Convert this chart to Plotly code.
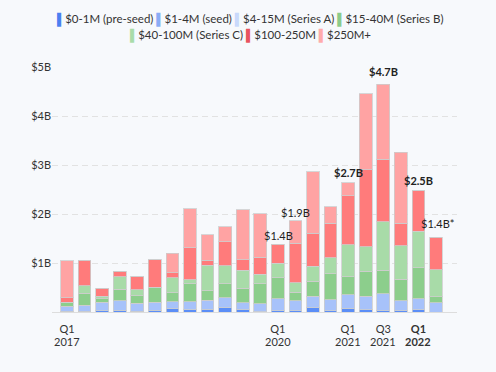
import plotly.graph_objects as go

FONT = "Lato"
W, H = 496, 372
M = dict(l=52, r=39, t=67, b=60)

quarters = ["Q1 2017", "Q2 2017", "Q3 2017", "Q4 2017",
            "Q1 2018", "Q2 2018", "Q3 2018", "Q4 2018",
            "Q1 2019", "Q2 2019", "Q3 2019", "Q4 2019",
            "Q1 2020", "Q2 2020", "Q3 2020", "Q4 2020",
            "Q1 2021", "Q2 2021", "Q3 2021", "Q4 2021",
            "Q1 2022", "Q2 2022"]

# values in $B, bottom to top of each stack
pre_seed = [0.02, 0.02, 0.03, 0.035, 0.02, 0.04, 0.07, 0.05, 0.06, 0.09, 0.05, 0.01,
            0.03, 0.03, 0.09, 0.03, 0.08, 0.05, 0.03, 0.03, 0.05, 0.0]
seed = [0.10, 0.12, 0.17, 0.19, 0.16, 0.16, 0.14, 0.16, 0.18, 0.20, 0.14, 0.16,
        0.24, 0.20, 0.23, 0.22, 0.27, 0.27, 0.34, 0.20, 0.22, 0.19]
series_a = [0.0] * 22
series_b = [0.08, 0.24, 0.075, 0.24, 0.15, 0.31, 0.18, 0.37, 0.19, 0.29, 0.29, 0.41,
            0.43, 0.17, 0.31, 0.53, 0.37, 0.51, 0.48, 0.44, 0.63, 0.12]
series_c = [0.0, 0.16, 0.05, 0.25, 0.12, 0.0, 0.31, 0.08, 0.52, 0.36, 0.37, 0.19,
            0.29, 0.20, 0.30, 0.33, 0.65, 0.50, 0.99, 0.68, 0.75, 0.55]
r100_250 = [0.09, 0.52, 0.16, 0.12, 0.27, 0.56, 0.10, 0.65, 0.11, 0.49, 0.22, 0.35,
            0.39, 0.80, 0.68, 0.70, 1.00, 1.57, 1.28, 0.46, 0.82, 0.67]
r250_plus = [0.76, 0.0, 0.0, 0.0, 0.0, 0.0, 0.40, 0.80, 0.52, 0.31, 1.02, 0.89,
             0.0, 0.46, 1.25, 0.34, 0.27, 1.55, 1.53, 1.45, 0.0, 0.0]

series_names = ["$0-1M (pre-seed)", "$1-4M (seed)", "$4-15M (Series A)", "$15-40M (Series B)",
                "$40-100M (Series C)", "$100-250M", "$250M+"]
series_values = [pre_seed, seed, series_a, series_b, series_c, r100_250, r250_plus]
bar_colors = ["#5b8ef7", "#a7c2fa", "#cddcfc", "#8cce8c", "#a8dba8", "#ff7b7b", "#ffa3a3"]
legend_colors = ["#4a80f0", "#8aacf5", "#c9d9fb", "#8bcb8b", "#a9dca9", "#e8545e", "#ffabab"]

tick_positions = ["Q1 2017", "Q1 2020", "Q1 2021", "Q3 2021", "Q1 2022"]
tick_quarter = ["Q1", "Q1", "Q1", "Q3", "<b>Q1</b>"]
tick_year = ["2017", "2020", "2021", "2021", "<b>2022</b>"]

y_tickvals = [1, 2, 3, 4, 5]
y_ticktext = ["$1B", "$2B", "$3B", "$4B", "$5B"]

label_quarters = ["Q1 2020", "Q2 2020", "Q1 2021", "Q3 2021", "Q1 2022", "Q2 2022"]
label_texts = ["$1.4B", "$1.9B", "$2.7B", "$4.7B", "$2.5B", "$1.4B*"]
label_bold = [False, False, True, True, True, False]
label_yshift = [9, 8, 10, 13, 10, 14]
label_xshift = [1, 0, 0, 0, 0, 2]

fig = go.Figure()
for name, vals, col in zip(series_names, series_values, bar_colors):
    fig.add_trace(go.Bar(
        x=quarters, y=vals, name=name, marker_color=col,
        marker_line_color="rgba(205,205,205,0.8)", marker_line_width=1,
        showlegend=False,
    ))

totals = [sum(v[i] for v in series_values) for i in range(len(quarters))]

annotations = []
for q, t, b, ys, xs in zip(label_quarters, label_texts, label_bold, label_yshift, label_xshift):
    i = quarters.index(q)
    annotations.append(dict(
        x=q, y=totals[i], xref="x", yref="y", text=f"<b>{t}</b>" if b else t,
        showarrow=False, yanchor="middle", yshift=ys, xshift=xs,
        font=dict(family=FONT, size=11, color="#222"),
    ))

# year line of the x tick labels (tight second line)
for q, yr in zip(tick_positions, tick_year):
    annotations.append(dict(
        x=q, y=0, xref="x", yref="paper", text=yr, showarrow=False,
        yanchor="middle", yshift=-29.5, font=dict(family=FONT, size=11, color="#333"),
    ))

# legend rows built from text (swatch glyph + label), centered like the reference
def legend_row(idx):
    parts = []
    for k in idx:
        parts.append(f"<span style='color:{legend_colors[k]}'>▌</span>{series_names[k]}")
    return " ".join(parts)

pw = W - M["l"] - M["r"]
ph = H - M["t"] - M["b"]
def px_to_paper(px, py):
    return (px - M["l"]) / pw, (H - M["b"] - py) / ph

for row, cy in (([0, 1, 2, 3], 19), ([4, 5, 6], 35)):
    ax, ay = px_to_paper(250, cy)
    annotations.append(dict(text=legend_row(row), xref="paper", yref="paper",
                            x=ax, y=ay, xanchor="center", yanchor="middle",
                            showarrow=False, font=dict(family=FONT, size=11.5, color="#333")))

fig.update_layout(
    width=W, height=H,
    barmode="stack", bargap=0.27,
    margin=M,
    paper_bgcolor="#f7f9fc", plot_bgcolor="#f7f9fc",
    font=dict(family=FONT, size=11, color="#333"),
    annotations=annotations,
    showlegend=False,
)
fig.update_xaxes(
    type="category", categoryorder="array", categoryarray=quarters,
    tickmode="array", tickvals=tick_positions, ticktext=tick_quarter,
    showgrid=False, showline=True, linecolor="#dddddd", linewidth=1,
    ticks="", ticklabelstandoff=7, tickfont=dict(family=FONT, size=11, color="#333"),
)
fig.update_yaxes(
    range=[0, 5], tickmode="array", tickvals=y_tickvals, ticktext=y_ticktext,
    showgrid=True, gridcolor="#e2e2e2", griddash="6px,4px", gridwidth=1,
    zeroline=False, showline=False, ticks="",
    tickfont=dict(family=FONT, size=11, color="#333"),
)

fig.write_html("out.html", config={"displayModeBar": False},
               post_script="document.body.style.margin='0';")
